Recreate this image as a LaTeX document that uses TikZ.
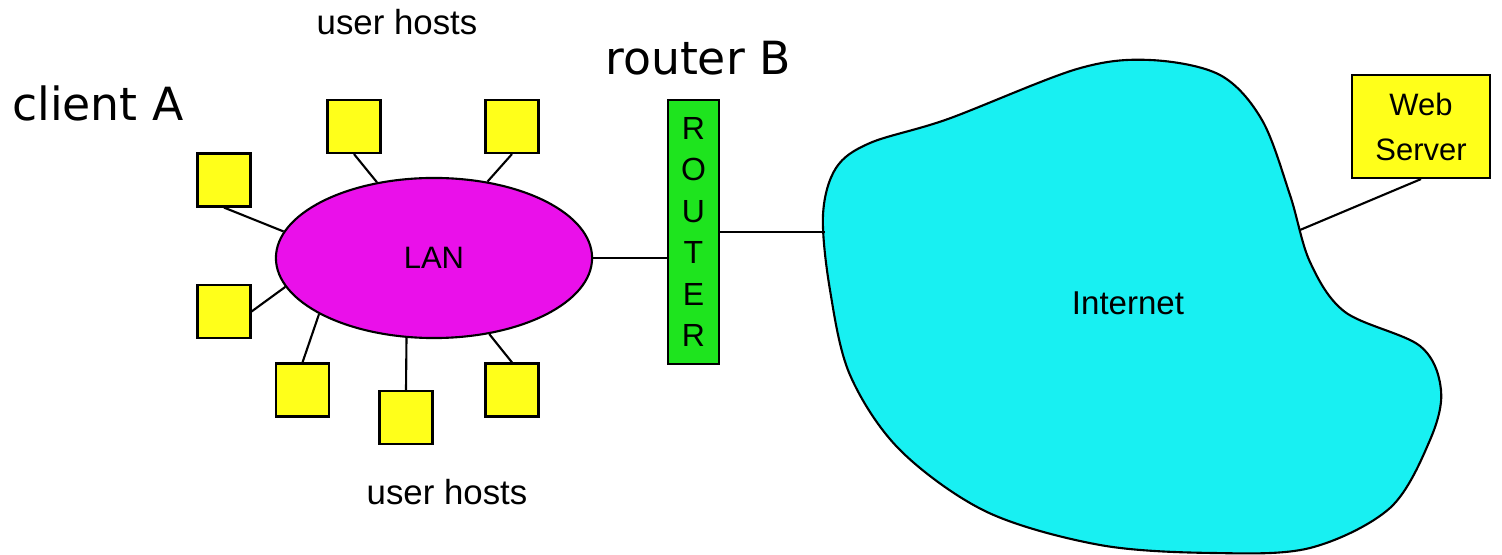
\documentclass[tikz,border=0pt]{standalone}
\usepackage{fontspec}
\setmainfont{Liberation Sans}
\newfontfamily\handfont{DejaVu Sans}
\usepackage{tikz}
\usetikzlibrary{shapes.geometric}
\definecolor{lanpink}{RGB}{234,16,234}
\definecolor{netcyan}{RGB}{24,240,242}
\definecolor{hostyellow}{RGB}{255,255,26}
\definecolor{routergreen}{RGB}{30,228,30}

\begin{document}
\begin{tikzpicture}[x=0.01cm, y=-0.01cm, line width=0.6pt,
  host/.style={draw, fill=hostyellow, minimum size=0.53cm, inner sep=0pt},
  lbl/.style={font=\fontsize{9.9}{12}\selectfont},
  hand/.style={font=\handfont\fontsize{13}{15}\selectfont}]
  \useasboundingbox (0,0) rectangle (1502,555);

  % Internet cloud
  \draw[fill=netcyan] plot[smooth cycle, tension=0.55] coordinates {
    (823,215) (836,168) (870,143) (948,119) (1077,69) (1150,60) (1220,75)
    (1262,120) (1290,195) (1310,262) (1345,312) (1420,346) (1441,390)
    (1430,440) (1390,508) (1310,548) (1213,553) (1100,545) (987,512)
    (900,450) (850,375) (830,290)};
  \coordinate (inetW) at (825,232);
  \coordinate (inetE) at (1300,230);

  % Nodes
  \node[font=\fontsize{9.4}{11}\selectfont] (inet) at (1128,303) {Internet};
  \node[draw, ellipse, fill=lanpink, minimum width=3.16cm, minimum height=1.6cm,
    inner sep=0pt, font=\fontsize{8.8}{10}\selectfont] (lan) at (434,258) {LAN};

  \node[host] (h1) at (224,180) {};
  \node[host] (h2) at (354,126.5) {};
  \node[host] (h3) at (512,126.5) {};
  \node[host] (h4) at (224,311.5) {};
  \node[host] (h5) at (302.5,390) {};
  \node[host] (h6) at (406,417.5) {};
  \node[host] (h7) at (512,390) {};

  \node[draw, fill=routergreen, minimum width=0.51cm, minimum height=2.64cm,
    inner sep=0pt, align=center, font=\fontsize{9.1}{11.8}\selectfont]
    (router) at (693.5,232) {R\\O\\U\\T\\E\\R};
  \node[draw, fill=hostyellow, minimum width=1.38cm, minimum height=1.03cm,
    inner sep=0pt, align=center, font=\fontsize{8.8}{12.8}\selectfont]
    (web) at (1421,126.5) {Web\\Server};

  \node[lbl] (topusers) at (397,22) {user hosts};
  \node[lbl] (botusers) at (447,492) {user hosts};
  \node[hand] (routerB) at (698,58) {router B};
  \node[hand] (clientA) at (98,103) {client A};

  % Edges
  \draw (h1.south) -- (lan.170);
  \draw (h2.south) -- (lan.127);
  \draw (h3.south) -- (lan.55);
  \draw (h4.east) -- (lan.191);
  \draw (h5.north) -- (lan.206);
  \draw (h6.north) -- (lan.251);
  \draw (h7.north) -- (lan.306);

  \draw (lan.east) -- (lan.east -| router.west);
  \draw (router.east) -- (inetW);
  \draw (web.south) -- (inetE);
\end{tikzpicture}
\end{document}
